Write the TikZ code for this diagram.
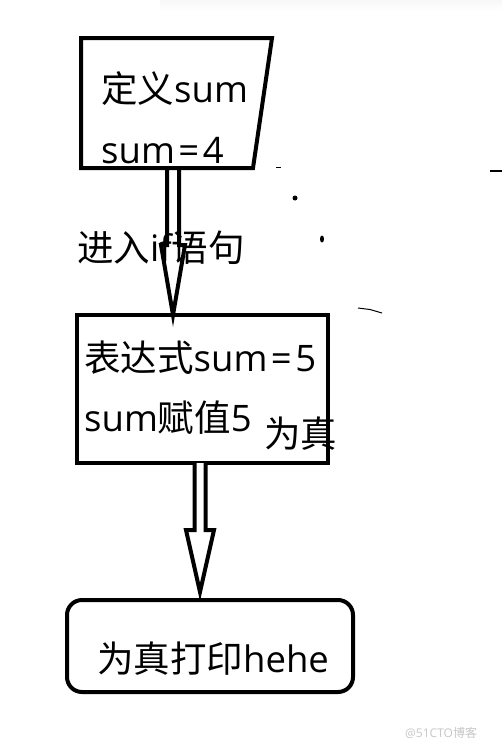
\documentclass[tikz,border=0pt]{standalone}
\usepackage{fontspec}
\setmainfont{Open Sans}
\newfontfamily\cjk{Noto Sans CJK SC}
\newcommand{\eqsp}{\hspace{3.5pt}=\hspace{3.5pt}}
\usetikzlibrary{calc}
\begin{document}
\begin{tikzpicture}[x=1pt,y=-1pt,
  boxline/.style={draw=black,line width=4pt},
  hollowarrow/.style={draw=black,line width=4pt,line join=miter,fill=white},
  lbl/.style={anchor=base west,inner sep=0pt,font=\fontsize{36.5}{37}\selectfont},
  plainbox/.style={inner sep=0pt,outer sep=0pt}]
\useasboundingbox[fill=white] (0,0) rectangle (502,750);
\shade[top color=black!3,bottom color=white] (160,0) rectangle (502,11);
% top box (trapezoid)
\node[plainbox,minimum width=191pt,minimum height=130pt] (def) at (176.5,103) {};
\draw[boxline,line join=miter] (def.north west) -- (def.north east) -- ($(def.south east)+(-19,0)$) -- (def.south west) -- cycle;
\node[lbl] (t1) at (101,102) {{\cjk 定义}sum};
\node[lbl] (t2) at (101,163) {sum\eqsp4};
% middle box
\node[plainbox,minimum width=251pt,minimum height=148pt,boxline] (expr) at (202.5,389) {};
\node[lbl] (t3) at (84,371) {{\cjk 表达式}sum\eqsp5};
\node[lbl] (t4) at (84,431) {sum{\cjk 赋值}5};
\node[lbl] (t5) at (264,447) {\cjk 为真};
% bottom box
\node[plainbox,minimum width=286pt,minimum height=92pt,boxline,rounded corners=15pt] (out) at (210,646) {};
\node[lbl] (t6) at (97,672) {{\cjk 为真打印}hehe};
% label on first arrow
\node[lbl] (t7) at (77,261) {{\cjk 进入}if{\cjk 语句}};
% arrow 1
\coordinate (a1s) at ($(def.south)+(-3.5,0)$);
\coordinate (a1e) at (a1s |- expr.north);
\draw[hollowarrow,fill=none] ($(a1s)+(-6,0)$) -- ($(a1s)+(-6,77)$) -- ($(a1s)+(-12,77)$) -- (a1e) -- ($(a1s)+(12,77)$) -- ($(a1s)+(6,77)$) -- ($(a1s)+(6,0)$);
% arrow 2
\coordinate (a2s) at ($(expr.south)+(-2.5,0)$);
\coordinate (a2e) at ($(a2s |- out.north)+(0,-8)$);
\draw[hollowarrow] ($(a2s)+(-5.5,0)$) -- ($(a2s)+(-5.5,67)$) -- ($(a2s)+(-14,67)$) -- (a2e) -- ($(a2s)+(14,67)$) -- ($(a2s)+(5.5,67)$) -- ($(a2s)+(5.5,0)$);
% stray marks
\fill (295,198) circle (2.5pt);
\fill (322,239) ellipse (2pt and 3.5pt);
\draw[line width=1.5pt] (276,167.5) -- (281,167.5);
\draw[line width=2pt] (490,171) -- (502,171);
\draw[line width=1pt] (358,308) -- (370,309.5) -- (382,313);
% watermark
\node[anchor=base west,inner sep=0pt,text=black!22,font=\fontsize{12}{12}\selectfont] (wm) at (405,737) {@51CTO{\cjk 博客}};
\end{tikzpicture}
\end{document}
